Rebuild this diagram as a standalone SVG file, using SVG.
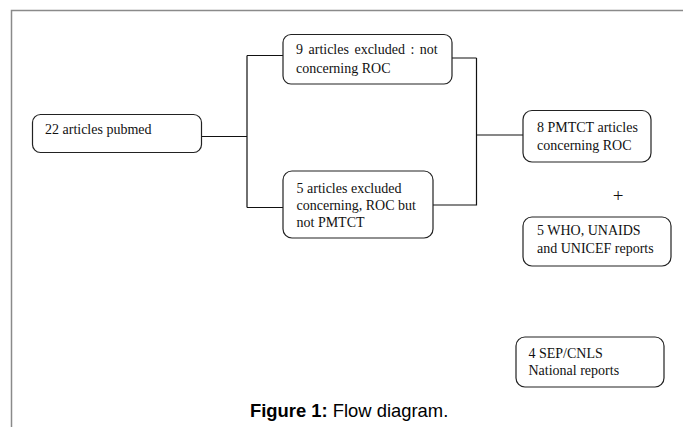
<svg xmlns="http://www.w3.org/2000/svg" width="683" height="427" viewBox="0 0 683 427">
<style>
.frame{stroke:#8a8a8a;stroke-width:1.5;fill:none}
.box{fill:#fff;stroke:#222;stroke-width:1.2}
.t{font-family:"Liberation Serif","Times New Roman",serif;font-size:14px;fill:#111}
.plus{font-family:"Liberation Serif","Times New Roman",serif;font-size:19px;fill:#111}
.conn{stroke:#111;stroke-width:1.2;fill:none}
.cap{font-family:"Liberation Sans",Arial,sans-serif;font-size:18.4px;fill:#000}
</style>
<rect width="683" height="427" fill="#fff"/>
<path class="frame" d="M11.5,427 V10.5 H683"/>
<g id="connectors">
<path class="conn" d="M202,136.5 H247 M247,55.5 V207.5 M247,55.5 H283 M247,207.5 H283"/>
<path class="conn" d="M452,58 H476.5 M433,205 H476.5 M476.5,58 V205.5 M476.5,135 H523"/>
</g>
<g id="n1">
<rect class="box" x="32.5" y="114.5" width="169" height="38" rx="8"/>
<text class="t" x="45" y="134">22 articles pubmed</text>
</g>
<g id="n2">
<rect class="box" x="283" y="34.5" width="169" height="49.5" rx="8"/>
<text class="t" x="296" y="54" style="word-spacing:2px">9 articles excluded : not</text>
<text class="t" x="296" y="73">concerning ROC</text>
</g>
<g id="n3">
<rect class="box" x="283" y="171" width="150" height="67" rx="9"/>
<text class="t" x="296.5" y="193">5 articles excluded</text>
<text class="t" x="296.5" y="210">concerning, ROC but</text>
<text class="t" x="296.5" y="226.5">not PMTCT</text>
</g>
<g id="n4">
<rect class="box" x="523" y="110.5" width="128" height="51.5" rx="9"/>
<text class="t" x="537" y="132">8 PMTCT articles</text>
<text class="t" x="537" y="150">concerning ROC</text>
</g>
<text class="plus" x="618" y="202" text-anchor="middle">+</text>
<g id="n5">
<rect class="box" x="523" y="217" width="148" height="49" rx="9"/>
<text class="t" x="537" y="235">5 WHO, UNAIDS</text>
<text class="t" x="537" y="253">and UNICEF reports</text>
</g>
<g id="n6">
<rect class="box" x="516" y="337" width="148" height="50" rx="9"/>
<text class="t" x="528.5" y="358">4 SEP/CNLS</text>
<text class="t" x="528.5" y="375">National reports</text>
</g>
<text class="cap" x="250" y="417"><tspan font-weight="bold">Figure 1:</tspan> Flow diagram.</text>
</svg>
